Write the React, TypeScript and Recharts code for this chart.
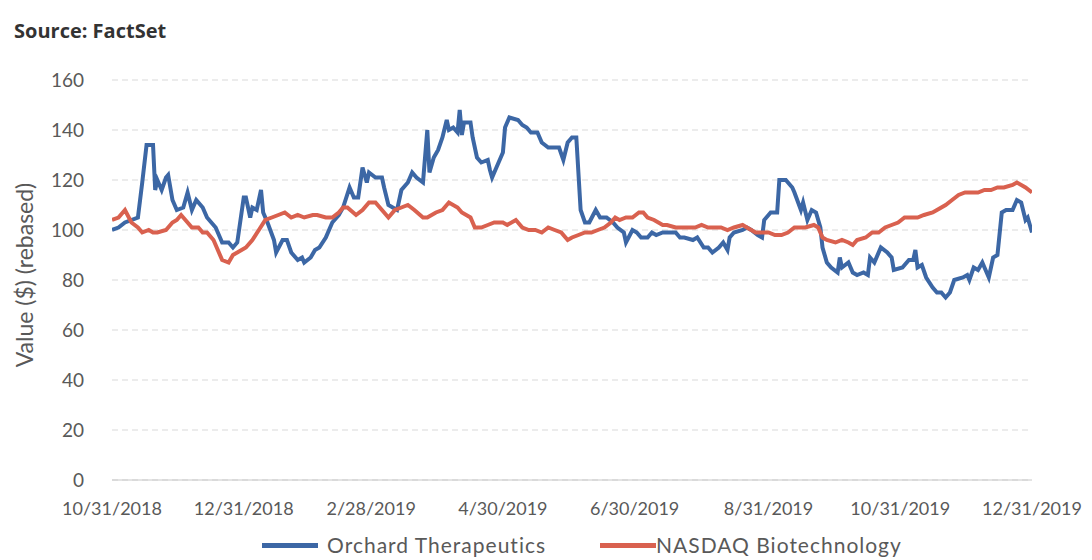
import React from "react";
import { LineChart, Line, XAxis, YAxis, CartesianGrid, Legend } from "recharts";

// days since 10/31/2018
const orchardDays = [
  0, 3, 6, 12, 14, 16, 19, 20, 21, 23, 25, 26, 28, 30, 33, 35, 37, 39, 42, 44,
  48, 51, 54, 56, 58, 61, 62, 64, 65, 67, 69, 70, 72, 75, 76, 79, 81, 83, 86, 88,
  89, 92, 94, 96, 99, 102, 105, 107, 110, 112, 114, 116, 118, 119, 122, 125, 126,
  128, 130, 132, 134, 137, 139, 141, 144, 146, 147, 149, 151, 153, 155, 156, 158,
  160, 161, 162, 163, 166, 167, 169, 171, 174, 175, 176, 178, 181, 182, 184, 188,
  190, 192, 194, 197, 199, 202, 205, 207, 209, 211, 213, 215, 217, 219, 221, 224,
  226, 229, 232, 234, 237, 238, 241, 243, 245, 248, 250, 252, 255, 257, 261, 263,
  265, 269, 271, 274, 276, 278, 281, 283, 285, 286, 288, 292, 294, 296, 299, 301,
  302, 305, 308, 309, 312, 315, 316, 319, 320, 322, 324, 326, 328, 329, 331, 333,
  336, 337, 338, 341, 343, 345, 348, 350, 351, 353, 356, 359, 361, 362, 366, 369,
  371, 372, 373, 375, 377, 380, 382, 384, 386, 388, 390, 394, 396, 397, 399, 401,
  403, 404, 406, 408, 410, 412, 414, 417, 419, 421, 423, 424, 426,
];
const orchardValues = [
  100, 101, 103, 105, 119, 134, 134, 116, 120, 116, 121, 122, 112, 108, 109, 115,
  108, 112, 109, 105, 101, 95, 95, 93, 95, 113, 113, 105, 109, 108, 116, 107, 103,
  96, 91, 96, 96, 91, 88, 89, 87, 89, 92, 93, 97, 103, 106, 109, 117, 113, 113, 125,
  119, 123, 121, 121, 117, 110, 109, 108, 116, 119, 123, 121, 119, 140, 123, 129,
  132, 137, 144, 140, 141, 139, 148, 138, 143, 143, 137, 129, 127, 128, 124, 121,
  125, 131, 141, 145, 144, 142, 141, 139, 139, 135, 133, 133, 133, 128, 135, 137,
  137, 108, 103, 103, 108, 105, 105, 103, 101, 99, 95, 100, 99, 97, 97, 99, 98, 99,
  99, 99, 97, 97, 96, 97, 93, 93, 91, 93, 95, 92, 97, 99, 100, 101, 100, 98, 97, 104,
  107, 107, 120, 120, 117, 115, 108, 111, 104, 108, 107, 101, 93, 87, 85, 83, 89, 85,
  87, 83, 82, 83, 82, 89, 87, 93, 91, 89, 84, 85, 88, 88, 92, 85, 86, 81, 77, 75, 75,
  73, 75, 80, 81, 82, 80, 85, 84, 87, 85, 81, 89, 90, 107, 108, 108, 112, 111, 104,
  105, 99,
];

const nasdaqDays = [
  0, 3, 6, 9, 12, 14, 17, 19, 21, 25, 28, 30, 32, 35, 37, 40, 42, 44, 47, 49, 51,
  54, 56, 58, 62, 65, 68, 71, 74, 77, 80, 83, 86, 89, 93, 95, 99, 102, 105, 107,
  109, 113, 116, 119, 122, 125, 128, 131, 134, 137, 140, 144, 146, 150, 153, 156,
  160, 162, 166, 168, 171, 174, 177, 181, 183, 187, 190, 193, 196, 199, 202, 205,
  208, 211, 213, 216, 219, 222, 225, 228, 231, 233, 235, 238, 241, 244, 246, 248,
  251, 255, 257, 261, 264, 267, 270, 273, 276, 279, 282, 285, 288, 292, 294, 298,
  301, 304, 307, 310, 313, 316, 321, 325, 327, 329, 331, 335, 338, 341, 343, 345,
  349, 352, 355, 358, 361, 364, 367, 370, 373, 376, 380, 382, 386, 389, 392, 395,
  398, 401, 404, 407, 410, 413, 417, 419, 423, 426,
];
const nasdaqValues = [
  104, 105, 108, 103, 101, 99, 100, 99, 99, 100, 103, 104, 106, 103, 101, 101, 99,
  99, 96, 92, 88, 87, 90, 91, 93, 96, 100, 104, 105, 106, 107, 105, 106, 105, 106,
  106, 105, 105, 107, 109, 109, 106, 108, 111, 111, 108, 105, 108, 109, 110, 108,
  105, 105, 107, 108, 111, 109, 107, 105, 101, 101, 102, 103, 103, 102, 104, 101,
  100, 100, 99, 101, 100, 99, 96, 97, 98, 99, 99, 100, 101, 103, 105, 104, 105, 105,
  107, 107, 105, 104, 102, 102, 101, 101, 101, 101, 102, 101, 101, 101, 100, 101,
  102, 101, 99, 99, 99, 98, 98, 99, 101, 101, 102, 101, 97, 96, 95, 96, 95, 94, 96,
  97, 99, 99, 101, 102, 103, 105, 105, 105, 106, 107, 108, 110, 112, 114, 115, 115,
  115, 116, 116, 117, 117, 118, 119, 117, 115,
];

const tickDays = [0, 61, 120, 181, 242, 304, 365, 426];
const tickLabels = [
  "10/31/2018",
  "12/31/2018",
  "2/28/2019",
  "4/30/2019",
  "6/30/2019",
  "8/31/2019",
  "10/31/2019",
  "12/31/2019",
];
const yTicks = [0, 20, 40, 60, 80, 100, 120, 140, 160];

const orchard = orchardDays.map((d, i) => ({ day: d, value: orchardValues[i] }));
const nasdaq = nasdaqDays.map((d, i) => ({ day: d, value: nasdaqValues[i] }));

const BLUE = "#3c67a5";
const RED = "#d9614f";
const FONT = "Lato, 'Open Sans', sans-serif";

const legendItems = [
  { name: "Orchard Therapeutics", color: BLUE, gap: 9 },
  { name: "NASDAQ Biotechnology", color: RED, gap: 0 },
];

const renderLegend = () => (
  <div
    style={{
      display: "flex",
      justifyContent: "center",
      alignItems: "center",
      gap: 54,
      fontFamily: FONT,
      fontSize: 21,
      letterSpacing: 1,
      lineHeight: "24px",
      color: "#595959",
      paddingTop: 9,
      paddingLeft: 80,
    }}
  >
    {legendItems.map((it) => (
      <div key={it.name} style={{ display: "flex", alignItems: "center" }}>
        <span
          style={{
            display: "inline-block",
            width: 56,
            height: 5,
            background: it.color,
            marginRight: it.gap,
          }}
        />
        <span>{it.name}</span>
      </div>
    ))}
  </div>
);

export default function App() {
  return (
    <div style={{ position: "absolute", left: 0, top: 0, width: 1092, height: 560, background: "#fff" }}>
      <div
        style={{
          position: "absolute",
          left: 14,
          top: 17,
          fontFamily: "'Open Sans', Lato, sans-serif",
          fontWeight: 700,
          fontSize: 20,
          color: "#333",
        }}
      >
        Source: FactSet
      </div>
      <div
        style={{
          position: "absolute",
          left: 24,
          top: 275,
          transform: "translate(-50%, -50%) rotate(-90deg)",
          whiteSpace: "nowrap",
          fontFamily: FONT,
          fontSize: 23,
          color: "#595959",
        }}
      >
        Value ($) (rebased)
      </div>
      <LineChart
        width={1092}
        height={560}
        margin={{ top: 80, right: 60, bottom: 0, left: 52 }}
        style={{ position: "absolute", left: 0, top: 0 }}
      >
        <CartesianGrid vertical={false} stroke="#d9d9d9" strokeDasharray="6 4" />
        <XAxis
          dataKey="day"
          type="number"
          domain={[0, 426]}
          ticks={tickDays}
          tickFormatter={(v: number) => tickLabels[tickDays.indexOf(v)] ?? ""}
          interval={0}
          allowDataOverflow
          height={44}
          tickLine={false}
          tickSize={0}
          tickMargin={22}
          axisLine={{ stroke: "#c8c8c8" }}
          tick={{ fill: "#595959", fontSize: 18, fontFamily: FONT }}
        />
        <YAxis
          dataKey="value"
          type="number"
          domain={[0, 160]}
          ticks={yTicks}
          width={60}
          tickLine={false}
          axisLine={false}
          tickSize={0}
          tickMargin={28}
          tick={{ fill: "#595959", fontSize: 19, fontFamily: FONT }}
        />
        <Legend verticalAlign="bottom" height={36} content={renderLegend} />
        <Line
          data={orchard}
          dataKey="value"
          name="Orchard Therapeutics"
          stroke={BLUE}
          strokeWidth={4}
          dot={false}
          type="linear"
          isAnimationActive={false}
        />
        <Line
          data={nasdaq}
          dataKey="value"
          name="NASDAQ Biotechnology"
          stroke={RED}
          strokeWidth={4}
          dot={false}
          type="linear"
          isAnimationActive={false}
        />
      </LineChart>
    </div>
  );
}
